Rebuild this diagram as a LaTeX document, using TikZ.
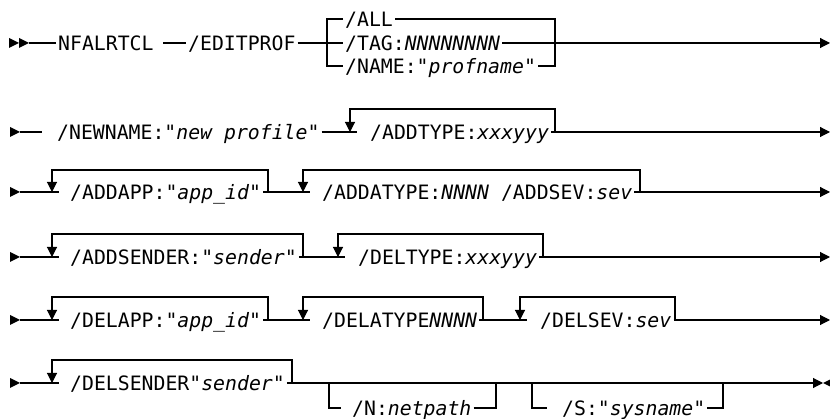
\documentclass[tikz,border=0pt]{standalone}
\usepackage{fontspec}
\setmonofont{DejaVu Sans Mono}
\usetikzlibrary{arrows.meta,calc}
\tikzset{
    kw/.style =   {anchor=west,
                  inner xsep=2pt,
                  inner ysep=0pt,
                  text height=14.4pt,
                  text depth=0pt,
                  font=\ttfamily\fontsize{19.8}{24}\selectfont},
    rail/.style = {line width=1.1pt,
                  draw=black},
    tip/.style =  {-{Triangle[length=10pt,width=10pt]}},
    -}
\newcommand{\startmark}[1]{\fill (#1) ++(0,-5) -- ++(10,5) -- ++(-10,5) -- cycle;}

\begin{document}
\begin{tikzpicture}[x=1pt,y=-1pt]
    \useasboundingbox (0,0) rectangle (830,419);
    % row 1
    \startmark{9,43} \startmark{19,43}
    \node[kw]   (cmd)     at (56,43)   {NFALRTCL};
    \node[kw]   (edit)    at (186,43)  {/EDITPROF};
    \node[kw]   (all)     at (343,19)  {/ALL};
    \node[kw]   (tag)     at (343,43)  {/TAG:\textit{NNNNNNNN}};
    \node[kw]   (name)    at (343,66)  {/NAME:"\textit{profname}"};
    \coordinate (s1) at (29,43);
    \coordinate (c1) at (163,43);
    \coordinate (j1) at (327,43);
    \coordinate (k1) at (555,43);
    \coordinate (e1) at (830,43);
    \draw[rail]     (s1) -- (cmd.west);
    \draw[rail]     (c1) -- (edit.west);
    \draw[rail]     (edit.east) -- (j1) -- (tag.west);
    \draw[rail]     (all.west) -| (j1) |- (name.west);
    \draw[rail]     (all.east) -| (k1) |- (name.east);
    \draw[rail]     (tag.east) -- (k1);
    \draw[rail,tip] (k1) -- (e1);
    % row 2
    \startmark{10,132}
    \node[kw]   (newname) at (55,132)  {/NEWNAME:"\textit{new profile}"};
    \node[kw]   (addtype) at (368,132) {/ADDTYPE:\textit{xxxyyy}};
    \coordinate (s2) at (20,132);
    \coordinate (c2) at (42,132);
    \coordinate (a2) at (350,132);
    \coordinate (b2) at (357,132);
    \coordinate (t2) at (350,109);
    \coordinate (k2) at (555,132);
    \coordinate (e2) at (830,132);
    \draw[rail]     (s2) -- (c2);
    \draw[rail]     (newname.east) -- (b2);
    \draw[rail,tip] (k2) |- (t2) -- (a2);
    \draw[rail]     (addtype.east) -- (k2);
    \draw[rail,tip] (k2) -- (e2);
    % row 3
    \startmark{10,192}
    \node[kw]   (addapp)  at (68,192)  {/ADDAPP:"\textit{app\_id}"};
    \node[kw]   (addatyp) at (320,192) {/ADDATYPE:\textit{NNNN} /ADDSEV:\textit{sev}};
    \coordinate (s3)  at (20,192);
    \coordinate (a3a) at (52,192);
    \coordinate (b3a) at (59,192);
    \coordinate (t3a) at (52,170);
    \coordinate (k3a) at (268,192);
    \coordinate (a3b) at (303,192);
    \coordinate (b3b) at (310,192);
    \coordinate (t3b) at (303,170);
    \coordinate (k3b) at (640,192);
    \coordinate (e3)  at (830,192);
    \draw[rail]     (s3) -- (b3a);
    \draw[rail,tip] (k3a) |- (t3a) -- (a3a);
    \draw[rail]     (addapp.east) -- (k3a) -- (b3b);
    \draw[rail,tip] (k3b) |- (t3b) -- (a3b);
    \draw[rail]     (addatyp.east) -- (k3b);
    \draw[rail,tip] (k3b) -- (e3);
    % row 4
    \startmark{10,257}
    \node[kw]   (addsend) at (68,257)  {/ADDSENDER:"\textit{sender}"};
    \node[kw]   (deltype) at (356,257) {/DELTYPE:\textit{xxxyyy}};
    \coordinate (s4)  at (20,257);
    \coordinate (a4a) at (52,257);
    \coordinate (b4a) at (59,257);
    \coordinate (t4a) at (52,234);
    \coordinate (k4a) at (303,257);
    \coordinate (a4b) at (338,257);
    \coordinate (b4b) at (345,257);
    \coordinate (t4b) at (338,234);
    \coordinate (k4b) at (543,257);
    \coordinate (e4)  at (830,257);
    \draw[rail]     (s4) -- (b4a);
    \draw[rail,tip] (k4a) |- (t4a) -- (a4a);
    \draw[rail]     (addsend.east) -- (k4a) -- (b4b);
    \draw[rail,tip] (k4b) |- (t4b) -- (a4b);
    \draw[rail]     (deltype.east) -- (k4b);
    \draw[rail,tip] (k4b) -- (e4);
    % row 5
    \startmark{10,320}
    \node[kw]   (delapp)  at (68,320)  {/DELAPP:"\textit{app\_id}"};
    \node[kw]   (delatyp) at (320,320) {/DELATYPE\textit{NNNN}};
    \node[kw]   (delsev)  at (538,320) {/DELSEV:\textit{sev}};
    \coordinate (s5)  at (20,320);
    \coordinate (a5a) at (52,320);
    \coordinate (b5a) at (59,320);
    \coordinate (t5a) at (52,297);
    \coordinate (k5a) at (268,320);
    \coordinate (a5b) at (303,320);
    \coordinate (b5b) at (310,320);
    \coordinate (t5b) at (303,297);
    \coordinate (k5b) at (483,320);
    \coordinate (a5c) at (520,320);
    \coordinate (b5c) at (527,320);
    \coordinate (t5c) at (520,297);
    \coordinate (k5c) at (675,320);
    \coordinate (e5)  at (830,320);
    \draw[rail]     (s5) -- (b5a);
    \draw[rail,tip] (k5a) |- (t5a) -- (a5a);
    \draw[rail]     (delapp.east) -- (k5a) -- (b5b);
    \draw[rail,tip] (k5b) |- (t5b) -- (a5b);
    \draw[rail]     (delatyp.east) -- (k5b) -- (b5c);
    \draw[rail,tip] (k5c) |- (t5c) -- (a5c);
    \draw[rail]     (delsev.east) -- (k5c);
    \draw[rail,tip] (k5c) -- (e5);
    % row 6
    \startmark{10,383}
    \node[kw]   (delsend) at (68,383)  {/DELSENDER"\textit{sender}"};
    \node[kw]   (netp)    at (350,408) {/N:\textit{netpath}};
    \node[kw]   (sysn)    at (560,408) {/S:"\textit{sysname}"};
    \coordinate (s6)  at (20,383);
    \coordinate (a6a) at (52,383);
    \coordinate (b6a) at (59,383);
    \coordinate (t6a) at (52,360);
    \coordinate (k6)  at (292,383);
    \coordinate (n1)  at (329,383);
    \coordinate (n2)  at (341,408);
    \coordinate (n3)  at (496,383);
    \coordinate (m1)  at (532,383);
    \coordinate (m2)  at (547,408);
    \coordinate (m3)  at (723,383);
    \coordinate (e6)  at (823,383);
    \draw[rail]     (s6) -- (b6a);
    \draw[rail,tip] (k6) |- (t6a) -- (a6a);
    \draw[rail]     (delsend.east) -- (k6);
    \draw[rail,tip] (k6) -- (e6);
    \draw[rail]     (n1) |- (n2);
    \draw[rail]     (netp.east) -| (n3);
    \draw[rail]     (m1) |- (m2);
    \draw[rail]     (sysn.east) -| (m3);
    \fill (e6) -- ++(8,-4) -- ++(0,8) -- cycle;
\end{tikzpicture}
\end{document}
